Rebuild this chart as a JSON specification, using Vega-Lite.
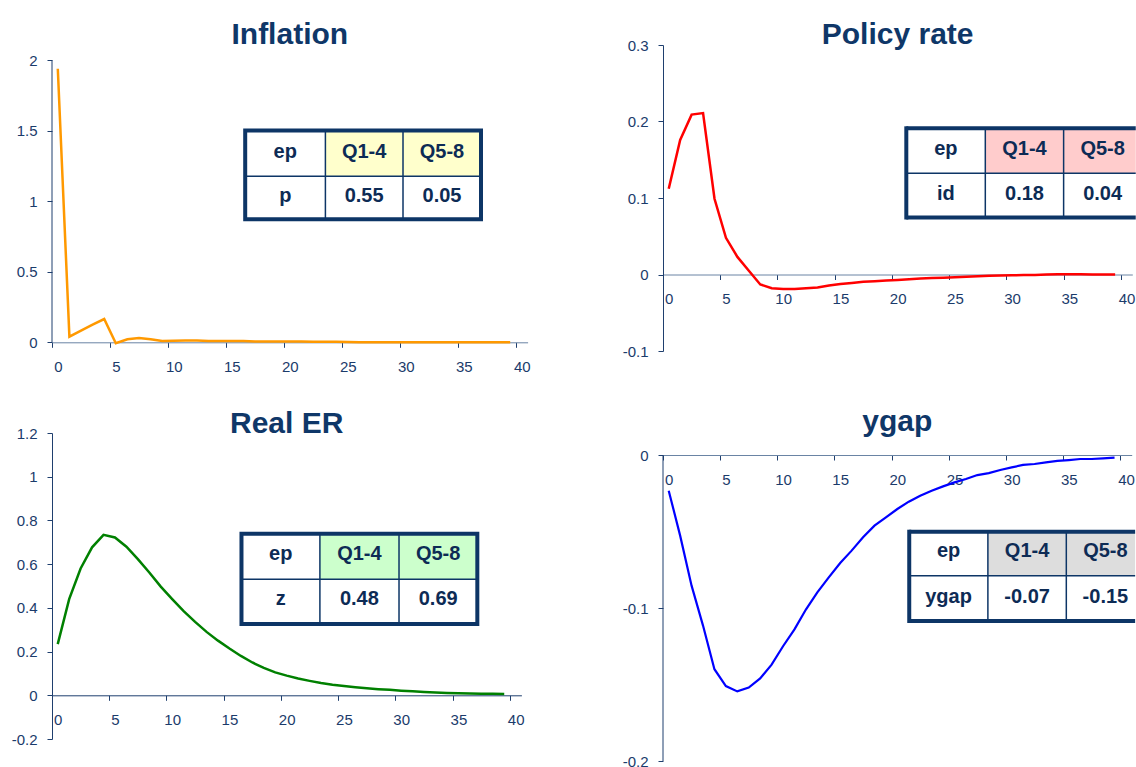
{
"$schema": "https://vega.github.io/schema/vega-lite/v6.json",
"padding": {"left": 0, "top": 19, "right": 0, "bottom": 0},
"background": "white",
"columns": 2,
"align": "each",
"spacing": {"row": 32, "column": 87},
"config": {
  "view": {"stroke": null},
  "font": "Liberation Sans",
  "title": {"font": "Liberation Sans", "fontSize": 30, "fontWeight": "bold", "color": "#0F3768", "anchor": "middle", "baseline": "alphabetic"},
  "axis": {"labelFont": "Liberation Sans", "labelFontSize": 15, "labelColor": "#1B3B6B", "tickColor": "#1F3F6E", "domainColor": "#1F3F6E", "grid": false, "labelFlush": false, "labelOverlap": false, "tickWidth": 1, "domainWidth": 1},
  "text": {"font": "Liberation Sans", "fontSize": 20, "fontWeight": "bold", "color": "#0D2B55", "align": "center", "baseline": "middle"}
},
"datasets": {
  "tables": [
    {"panel": "Inflation", "h1": "ep", "h2": "Q1-4", "h3": "Q5-8", "var": "p", "q1": "0.55", "q2": "0.05"},
    {"panel": "Policy rate", "h1": "ep", "h2": "Q1-4", "h3": "Q5-8", "var": "id", "q1": "0.18", "q2": "0.04"},
    {"panel": "Real ER", "h1": "ep", "h2": "Q1-4", "h3": "Q5-8", "var": "z", "q1": "0.48", "q2": "0.69"},
    {"panel": "ygap", "h1": "ep", "h2": "Q1-4", "h3": "Q5-8", "var": "ygap", "q1": "-0.07", "q2": "-0.15"}
  ],
  "series": [
    {"s":"Inflation","t":0,"v":1.94},{"s":"Inflation","t":1,"v":0.04},{"s":"Inflation","t":2,"v":0.082},{"s":"Inflation","t":3,"v":0.125},{"s":"Inflation","t":4,"v":0.165},{"s":"Inflation","t":5,"v":-0.007},{"s":"Inflation","t":6,"v":0.021},{"s":"Inflation","t":7,"v":0.03},{"s":"Inflation","t":8,"v":0.021},{"s":"Inflation","t":9,"v":0.009},
    {"s":"Inflation","t":10,"v":0.011},{"s":"Inflation","t":11,"v":0.013},{"s":"Inflation","t":12,"v":0.012},{"s":"Inflation","t":13,"v":0.01},{"s":"Inflation","t":14,"v":0.01},{"s":"Inflation","t":15,"v":0.01},{"s":"Inflation","t":16,"v":0.009},{"s":"Inflation","t":17,"v":0.006},{"s":"Inflation","t":18,"v":0.005},{"s":"Inflation","t":19,"v":0.005},
    {"s":"Inflation","t":20,"v":0.005},{"s":"Inflation","t":21,"v":0.005},{"s":"Inflation","t":22,"v":0.004},{"s":"Inflation","t":23,"v":0.004},{"s":"Inflation","t":24,"v":0.004},{"s":"Inflation","t":25,"v":0.002},{"s":"Inflation","t":26,"v":0.001},{"s":"Inflation","t":27,"v":0.001},{"s":"Inflation","t":28,"v":0.001},{"s":"Inflation","t":29,"v":0.001},
    {"s":"Inflation","t":30,"v":0.001},{"s":"Inflation","t":31,"v":0.001},{"s":"Inflation","t":32,"v":0.001},{"s":"Inflation","t":33,"v":0},{"s":"Inflation","t":34,"v":0},{"s":"Inflation","t":35,"v":0},{"s":"Inflation","t":36,"v":0},{"s":"Inflation","t":37,"v":0},{"s":"Inflation","t":38,"v":0},{"s":"Inflation","t":39,"v":0},
    {"s":"Policy rate","t":0,"v":0.112},{"s":"Policy rate","t":1,"v":0.176},{"s":"Policy rate","t":2,"v":0.209},{"s":"Policy rate","t":3,"v":0.211},{"s":"Policy rate","t":4,"v":0.099},{"s":"Policy rate","t":5,"v":0.048},{"s":"Policy rate","t":6,"v":0.023},{"s":"Policy rate","t":7,"v":0.005},{"s":"Policy rate","t":8,"v":-0.013},{"s":"Policy rate","t":9,"v":-0.018},
    {"s":"Policy rate","t":10,"v":-0.019},{"s":"Policy rate","t":11,"v":-0.019},{"s":"Policy rate","t":12,"v":-0.018},{"s":"Policy rate","t":13,"v":-0.017},{"s":"Policy rate","t":14,"v":-0.0145},{"s":"Policy rate","t":15,"v":-0.0125},{"s":"Policy rate","t":16,"v":-0.011},{"s":"Policy rate","t":17,"v":-0.0095},{"s":"Policy rate","t":18,"v":-0.0088},{"s":"Policy rate","t":19,"v":-0.008},
    {"s":"Policy rate","t":20,"v":-0.0072},{"s":"Policy rate","t":21,"v":-0.0062},{"s":"Policy rate","t":22,"v":-0.0052},{"s":"Policy rate","t":23,"v":-0.0047},{"s":"Policy rate","t":24,"v":-0.0042},{"s":"Policy rate","t":25,"v":-0.0036},{"s":"Policy rate","t":26,"v":-0.0028},{"s":"Policy rate","t":27,"v":-0.0022},{"s":"Policy rate","t":28,"v":-0.0015},{"s":"Policy rate","t":29,"v":-0.0012},
    {"s":"Policy rate","t":30,"v":-0.001},{"s":"Policy rate","t":31,"v":-0.0008},{"s":"Policy rate","t":32,"v":-0.0005},{"s":"Policy rate","t":33,"v":0},{"s":"Policy rate","t":34,"v":0.0002},{"s":"Policy rate","t":35,"v":0.0002},{"s":"Policy rate","t":36,"v":0.0002},{"s":"Policy rate","t":37,"v":0.0001},{"s":"Policy rate","t":38,"v":0.0001},{"s":"Policy rate","t":39,"v":0},
    {"s":"Real ER","t":0,"v":0.234},{"s":"Real ER","t":1,"v":0.44},{"s":"Real ER","t":2,"v":0.58},{"s":"Real ER","t":3,"v":0.677},{"s":"Real ER","t":4,"v":0.734},{"s":"Real ER","t":5,"v":0.722},{"s":"Real ER","t":6,"v":0.68},{"s":"Real ER","t":7,"v":0.623},{"s":"Real ER","t":8,"v":0.562},{"s":"Real ER","t":9,"v":0.497},
    {"s":"Real ER","t":10,"v":0.44},{"s":"Real ER","t":11,"v":0.385},{"s":"Real ER","t":12,"v":0.336},{"s":"Real ER","t":13,"v":0.29},{"s":"Real ER","t":14,"v":0.25},{"s":"Real ER","t":15,"v":0.214},{"s":"Real ER","t":16,"v":0.18},{"s":"Real ER","t":17,"v":0.15},{"s":"Real ER","t":18,"v":0.125},{"s":"Real ER","t":19,"v":0.105},
    {"s":"Real ER","t":20,"v":0.09},{"s":"Real ER","t":21,"v":0.077},{"s":"Real ER","t":22,"v":0.066},{"s":"Real ER","t":23,"v":0.056},{"s":"Real ER","t":24,"v":0.048},{"s":"Real ER","t":25,"v":0.042},{"s":"Real ER","t":26,"v":0.037},{"s":"Real ER","t":27,"v":0.032},{"s":"Real ER","t":28,"v":0.028},{"s":"Real ER","t":29,"v":0.025},
    {"s":"Real ER","t":30,"v":0.021},{"s":"Real ER","t":31,"v":0.018},{"s":"Real ER","t":32,"v":0.015},{"s":"Real ER","t":33,"v":0.013},{"s":"Real ER","t":34,"v":0.011},{"s":"Real ER","t":35,"v":0.009},{"s":"Real ER","t":36,"v":0.008},{"s":"Real ER","t":37,"v":0.007},{"s":"Real ER","t":38,"v":0.007},{"s":"Real ER","t":39,"v":0.006},
    {"s":"ygap","t":0,"v":-0.0233},{"s":"ygap","t":1,"v":-0.0527},{"s":"ygap","t":2,"v":-0.0854},{"s":"ygap","t":3,"v":-0.1115},{"s":"ygap","t":4,"v":-0.14},{"s":"ygap","t":5,"v":-0.151},{"s":"ygap","t":6,"v":-0.1545},{"s":"ygap","t":7,"v":-0.152},{"s":"ygap","t":8,"v":-0.146},{"s":"ygap","t":9,"v":-0.137},
    {"s":"ygap","t":10,"v":-0.125},{"s":"ygap","t":11,"v":-0.114},{"s":"ygap","t":12,"v":-0.101},{"s":"ygap","t":13,"v":-0.0898},{"s":"ygap","t":14,"v":-0.08},{"s":"ygap","t":15,"v":-0.0706},{"s":"ygap","t":16,"v":-0.0625},{"s":"ygap","t":17,"v":-0.0538},{"s":"ygap","t":18,"v":-0.0462},{"s":"ygap","t":19,"v":-0.0407},
    {"s":"ygap","t":20,"v":-0.0353},{"s":"ygap","t":21,"v":-0.0305},{"s":"ygap","t":22,"v":-0.0266},{"s":"ygap","t":23,"v":-0.0233},{"s":"ygap","t":24,"v":-0.0205},{"s":"ygap","t":25,"v":-0.0179},{"s":"ygap","t":26,"v":-0.0157},{"s":"ygap","t":27,"v":-0.0131},{"s":"ygap","t":28,"v":-0.0118},{"s":"ygap","t":29,"v":-0.0098},
    {"s":"ygap","t":30,"v":-0.0081},{"s":"ygap","t":31,"v":-0.0065},{"s":"ygap","t":32,"v":-0.0059},{"s":"ygap","t":33,"v":-0.0048},{"s":"ygap","t":34,"v":-0.0039},{"s":"ygap","t":35,"v":-0.0033},{"s":"ygap","t":36,"v":-0.0026},{"s":"ygap","t":37,"v":-0.0026},{"s":"ygap","t":38,"v":-0.0022},{"s":"ygap","t":39,"v":-0.0017}
  ]
},
"concat": [
{
  "width": 475.6, "height": 297.3,
  "title": {"text": "Inflation", "offset": -4.6},
  "layer": [
    {"data": {"name": "series"}, "transform": [{"filter": "datum.s === 'Inflation'"}],
     "mark": {"type": "line", "color": "#FF9900", "strokeWidth": 2.5},
     "encoding": {
       "x": {"field": "t", "type": "quantitative", "scale": {"domain": [-0.5, 40.5], "nice": false, "zero": false},
             "axis": {"title": null, "values": [-0.5, 4.5, 9.5, 14.5, 19.5, 24.5, 29.5, 34.5, 39.5], "labelExpr": "'' + (datum.value + 0.5)", "labelOffset": 5.8, "tickSize": 5, "labelPadding": 12, "domainColor": "#6A84A4", "offset": 0}},
       "y": {"field": "v", "type": "quantitative", "scale": {"domain": [0, 2.1085], "nice": false, "zero": false},
             "axis": {"title": null, "values": [0, 0.5, 1, 1.5, 2], "labelExpr": "'' + datum.value", "tickSize": 5, "labelPadding": 10, "domain": false, "minExtent": 52}}}},
    {"data": {"name": "tables"}, "transform": [{"filter": "datum.panel === 'Inflation'"}], "layer": [
      {"mark": {"type": "rule", "color": "#1F3F6E", "strokeWidth": 1}, "encoding": {"x": {"datum": -0.5}, "y": {"datum": 0}, "y2": {"datum": 2}}},
      {"mark": {"type": "rect", "fill": "#FFFFCC"}, "encoding": {"x": {"datum": 23.069}, "x2": {"datum": 36.483}, "y": {"datum": 1.502}, "y2": {"datum": 1.177}}},
      {"mark": {"type": "rule", "color": "#0D3566", "strokeWidth": 1.5}, "encoding": {"x": {"datum": 16.155}, "x2": {"datum": 36.483}, "y": {"datum": 1.177}}},
      {"mark": {"type": "rule", "color": "#0D3566", "strokeWidth": 1.5}, "encoding": {"x": {"datum": 23.069}, "y": {"datum": 1.502}, "y2": {"datum": 0.872}}},
      {"mark": {"type": "rule", "color": "#0D3566", "strokeWidth": 1.5}, "encoding": {"x": {"datum": 29.759}, "y": {"datum": 1.502}, "y2": {"datum": 0.872}}},
      {"mark": {"type": "rect", "fill": "transparent", "stroke": "#0D3566", "strokeWidth": 4}, "encoding": {"x": {"datum": 16.155}, "x2": {"datum": 36.483}, "y": {"datum": 1.502}, "y2": {"datum": 0.872}}},
      {"mark": "text", "encoding": {"x": {"datum": 19.61}, "y": {"datum": 1.351}, "text": {"field": "h1"}}},
      {"mark": "text", "encoding": {"x": {"datum": 26.41}, "y": {"datum": 1.351}, "text": {"field": "h2"}}},
      {"mark": "text", "encoding": {"x": {"datum": 33.12}, "y": {"datum": 1.351}, "text": {"field": "h3"}}},
      {"mark": "text", "encoding": {"x": {"datum": 19.61}, "y": {"datum": 1.035}, "text": {"field": "var"}}},
      {"mark": "text", "encoding": {"x": {"datum": 26.41}, "y": {"datum": 1.035}, "text": {"field": "q1"}}},
      {"mark": "text", "encoding": {"x": {"datum": 33.12}, "y": {"datum": 1.035}, "text": {"field": "q2"}}}
    ]}
  ]
},
{
  "width": 469.3, "height": 306,
  "title": {"text": "Policy rate", "offset": -12.1},
  "layer": [
    {"data": {"name": "series"}, "transform": [{"filter": "datum.s === 'Policy rate'"}],
     "mark": {"type": "line", "color": "#FF0000", "strokeWidth": 2.5},
     "encoding": {
       "x": {"field": "t", "type": "quantitative", "scale": {"domain": [-0.5, 40.5], "nice": false, "zero": false},
             "axis": {"title": null, "values": [-0.5, 4.5, 9.5, 14.5, 19.5, 24.5, 29.5, 34.5, 39.5], "labelExpr": "'' + (datum.value + 0.5)", "labelOffset": 5.72, "tickSize": 5, "labelPadding": 12, "domainColor": "#6A84A4", "offset": -76.5}},
       "y": {"field": "v", "type": "quantitative", "scale": {"domain": [-0.1, 0.3], "nice": false, "zero": false},
             "axis": {"title": null, "values": [-0.1, 0, 0.1, 0.2, 0.3], "labelExpr": "'' + datum.value", "tickSize": 5, "labelPadding": 10, "minExtent": 45}}}},
    {"data": {"name": "tables"}, "transform": [{"filter": "datum.panel === 'Policy rate'"}], "layer": [
      {"mark": {"type": "rect", "fill": "#FFCCCC"}, "encoding": {"x": {"datum": 27.658}, "x2": {"datum": 40.8}, "y": {"datum": 0.1911}, "y2": {"datum": 0.1325}}},
      {"mark": {"type": "rule", "color": "#0D3566", "strokeWidth": 1.5}, "encoding": {"x": {"datum": 20.756}, "x2": {"datum": 40.8}, "y": {"datum": 0.1325}}},
      {"mark": {"type": "rule", "color": "#0D3566", "strokeWidth": 1.5}, "encoding": {"x": {"datum": 27.658}, "y": {"datum": 0.1911}, "y2": {"datum": 0.0745}}},
      {"mark": {"type": "rule", "color": "#0D3566", "strokeWidth": 1.5}, "encoding": {"x": {"datum": 34.5}, "y": {"datum": 0.1911}, "y2": {"datum": 0.0745}}},
      {"mark": {"type": "rule", "color": "#0D3566", "strokeWidth": 4}, "encoding": {"x": {"datum": 20.756}, "x2": {"datum": 40.8}, "y": {"datum": 0.1911}}},
      {"mark": {"type": "rule", "color": "#0D3566", "strokeWidth": 4}, "encoding": {"x": {"datum": 20.756}, "x2": {"datum": 40.8}, "y": {"datum": 0.0745}}},
      {"mark": {"type": "rule", "color": "#0D3566", "strokeWidth": 4, "strokeCap": "square"}, "encoding": {"x": {"datum": 20.756}, "y": {"datum": 0.1911}, "y2": {"datum": 0.0745}}},
      {"mark": "text", "encoding": {"x": {"datum": 24.21}, "y": {"datum": 0.1639}, "text": {"field": "h1"}}},
      {"mark": "text", "encoding": {"x": {"datum": 31.08}, "y": {"datum": 0.1639}, "text": {"field": "h2"}}},
      {"mark": "text", "encoding": {"x": {"datum": 37.91}, "y": {"datum": 0.1639}, "text": {"field": "h3"}}},
      {"mark": "text", "encoding": {"x": {"datum": 24.21}, "y": {"datum": 0.1056}, "text": {"field": "var"}}},
      {"mark": "text", "encoding": {"x": {"datum": 31.08}, "y": {"datum": 0.1056}, "text": {"field": "q1"}}},
      {"mark": "text", "encoding": {"x": {"datum": 37.91}, "y": {"datum": 0.1056}, "text": {"field": "q2"}}}
    ]}
  ]
},
{
  "width": 469.4, "height": 306,
  "title": {"text": "Real ER", "offset": -12.6},
  "layer": [
    {"data": {"name": "series"}, "transform": [{"filter": "datum.s === 'Real ER'"}],
     "mark": {"type": "line", "color": "#008000", "strokeWidth": 2.5},
     "encoding": {
       "x": {"field": "t", "type": "quantitative", "scale": {"domain": [-0.5, 40.5], "nice": false, "zero": false},
             "axis": {"title": null, "values": [-0.5, 4.5, 9.5, 14.5, 19.5, 24.5, 29.5, 34.5, 39.5], "labelExpr": "'' + (datum.value + 0.5)", "labelOffset": 5.72, "tickSize": 5, "labelPadding": 12, "domainColor": "#1F3F6E", "offset": -43.7}},
       "y": {"field": "v", "type": "quantitative", "scale": {"domain": [-0.2, 1.2], "nice": false, "zero": false},
             "axis": {"title": null, "values": [-0.2, 0, 0.2, 0.4, 0.6, 0.8, 1, 1.2], "labelExpr": "'' + datum.value", "tickSize": 5, "labelPadding": 10, "minExtent": 52}}}},
    {"data": {"name": "tables"}, "transform": [{"filter": "datum.panel === 'Real ER'"}], "layer": [
      {"mark": {"type": "rect", "fill": "#CCFFCC"}, "encoding": {"x": {"datum": 22.9}, "x2": {"datum": 36.65}, "y": {"datum": 0.7388}, "y2": {"datum": 0.5313}}},
      {"mark": {"type": "rule", "color": "#0D3566", "strokeWidth": 1.5}, "encoding": {"x": {"datum": 16.05}, "x2": {"datum": 36.65}, "y": {"datum": 0.5313}}},
      {"mark": {"type": "rule", "color": "#0D3566", "strokeWidth": 1.5}, "encoding": {"x": {"datum": 22.9}, "y": {"datum": 0.7388}, "y2": {"datum": 0.3266}}},
      {"mark": {"type": "rule", "color": "#0D3566", "strokeWidth": 1.5}, "encoding": {"x": {"datum": 29.81}, "y": {"datum": 0.7388}, "y2": {"datum": 0.3266}}},
      {"mark": {"type": "rect", "fill": "transparent", "stroke": "#0D3566", "strokeWidth": 4}, "encoding": {"x": {"datum": 16.05}, "x2": {"datum": 36.65}, "y": {"datum": 0.7388}, "y2": {"datum": 0.3266}}},
      {"mark": "text", "encoding": {"x": {"datum": 19.48}, "y": {"datum": 0.6444}, "text": {"field": "h1"}}},
      {"mark": "text", "encoding": {"x": {"datum": 26.35}, "y": {"datum": 0.6444}, "text": {"field": "h2"}}},
      {"mark": "text", "encoding": {"x": {"datum": 33.23}, "y": {"datum": 0.6444}, "text": {"field": "h3"}}},
      {"mark": "text", "encoding": {"x": {"datum": 19.48}, "y": {"datum": 0.4383}, "text": {"field": "var"}}},
      {"mark": "text", "encoding": {"x": {"datum": 26.35}, "y": {"datum": 0.4383}, "text": {"field": "q1"}}},
      {"mark": "text", "encoding": {"x": {"datum": 33.23}, "y": {"datum": 0.4383}, "text": {"field": "q2"}}}
    ]}
  ]
},
{
  "width": 468.7, "height": 328,
  "title": {"text": "ygap", "offset": -4},
  "layer": [
    {"data": {"name": "series"}, "transform": [{"filter": "datum.s === 'ygap'"}],
     "mark": {"type": "line", "color": "#0000FF", "strokeWidth": 2.2},
     "encoding": {
       "x": {"field": "t", "type": "quantitative", "scale": {"domain": [-0.5, 40.5], "nice": false, "zero": false},
             "axis": {"title": null, "values": [-0.5, 4.5, 9.5, 14.5, 19.5, 24.5, 29.5, 34.5, 39.5], "labelExpr": "'' + (datum.value + 0.5)", "labelOffset": 5.72, "tickSize": 5, "labelPadding": 12, "domainColor": "#6A84A4", "offset": -306}},
       "y": {"field": "v", "type": "quantitative", "scale": {"domain": [-0.2, 0.01438], "nice": false, "zero": false},
             "axis": {"title": null, "values": [-0.2, -0.1, 0], "labelExpr": "'' + datum.value", "tickSize": 5, "labelPadding": 10, "domain": false, "minExtent": 45}}}},
    {"data": {"name": "tables"}, "transform": [{"filter": "datum.panel === 'ygap'"}], "layer": [
      {"mark": {"type": "rule", "color": "#1F3F6E", "strokeWidth": 1}, "encoding": {"x": {"datum": -0.5}, "y": {"datum": -0.2}, "y2": {"datum": 0}}},
      {"mark": {"type": "rect", "fill": "#DDDDDD"}, "encoding": {"x": {"datum": 27.92}, "x2": {"datum": 40.8}, "y": {"datum": -0.05013}, "y2": {"datum": -0.07889}}},
      {"mark": {"type": "rule", "color": "#0D3566", "strokeWidth": 1.5}, "encoding": {"x": {"datum": 21.04}, "x2": {"datum": 40.8}, "y": {"datum": -0.07889}}},
      {"mark": {"type": "rule", "color": "#0D3566", "strokeWidth": 1.5}, "encoding": {"x": {"datum": 27.92}, "y": {"datum": -0.05013}, "y2": {"datum": -0.1085}}},
      {"mark": {"type": "rule", "color": "#0D3566", "strokeWidth": 1.5}, "encoding": {"x": {"datum": 34.78}, "y": {"datum": -0.05013}, "y2": {"datum": -0.1085}}},
      {"mark": {"type": "rule", "color": "#0D3566", "strokeWidth": 4}, "encoding": {"x": {"datum": 21.04}, "x2": {"datum": 40.8}, "y": {"datum": -0.05013}}},
      {"mark": {"type": "rule", "color": "#0D3566", "strokeWidth": 4}, "encoding": {"x": {"datum": 21.04}, "x2": {"datum": 40.8}, "y": {"datum": -0.1085}}},
      {"mark": {"type": "rule", "color": "#0D3566", "strokeWidth": 4, "strokeCap": "square"}, "encoding": {"x": {"datum": 21.04}, "y": {"datum": -0.05013}, "y2": {"datum": -0.1085}}},
      {"mark": "text", "encoding": {"x": {"datum": 24.48}, "y": {"datum": -0.0629}, "text": {"field": "h1"}}},
      {"mark": "text", "encoding": {"x": {"datum": 31.35}, "y": {"datum": -0.0629}, "text": {"field": "h2"}}},
      {"mark": "text", "encoding": {"x": {"datum": 38.2}, "y": {"datum": -0.0629}, "text": {"field": "h3"}}},
      {"mark": "text", "encoding": {"x": {"datum": 24.48}, "y": {"datum": -0.0929}, "text": {"field": "var"}}},
      {"mark": "text", "encoding": {"x": {"datum": 31.35}, "y": {"datum": -0.0929}, "text": {"field": "q1"}}},
      {"mark": "text", "encoding": {"x": {"datum": 38.2}, "y": {"datum": -0.0929}, "text": {"field": "q2"}}}
    ]}
  ]
}
]
}
